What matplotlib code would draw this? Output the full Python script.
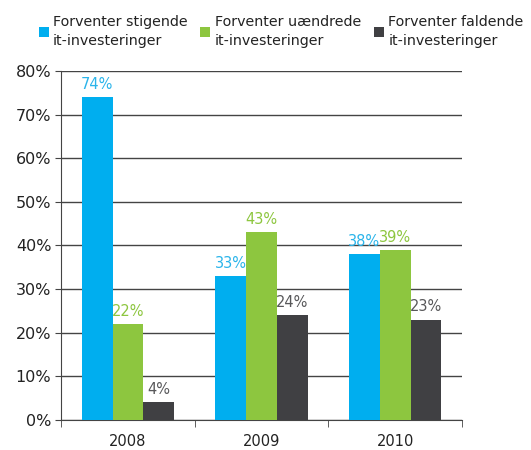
import matplotlib.pyplot as plt
import numpy as np

years = ['2008', '2009', '2010']
series = ['Forventer stigende\nit-investeringer',
          'Forventer uændrede\nit-investeringer',
          'Forventer faldende\nit-investeringer']
stigende = [74, 33, 38]
uaendrede = [22, 43, 39]
faldende = [4, 24, 23]

colors = ['#00aeef', '#8dc63f', '#404043']
label_colors = ['#2ab4ea', '#8dc63f', '#58585a']

fig = plt.figure(figsize=(5.31, 4.5), dpi=100)
ax = fig.add_axes([0.115, 0.067, 0.755, 0.775])

x = np.arange(len(years))
w = 0.23
handles = []
for i, vals in enumerate([stigende, uaendrede, faldende]):
    pos = x + (i - 1) * w
    b = ax.bar(pos, vals, w, color=colors[i], zorder=3, label=series[i])
    handles.append(b)
    for p, v in zip(pos, vals):
        ax.text(p, v + 1.2, f'{v}%', ha='center', va='bottom',
                fontsize=10.5, color=label_colors[i], zorder=4)

ax.set_xlim(-0.5, 2.5)
ax.set_ylim(0, 80)
ax.set_yticks(np.arange(0, 81, 10))
ax.set_yticklabels([f'{v}%' for v in range(0, 81, 10)], fontsize=11.5, color='#222222')
ax.set_xticks(x)
ax.set_xticklabels(years, fontsize=10.5, color='#222222')
ax.tick_params(axis='x', length=0, pad=10)
ax.set_xticks([-0.5, 0.5, 1.5, 2.5], minor=True)
ax.tick_params(axis='x', which='minor', length=5, color='#444444')
ax.tick_params(axis='y', length=4, color='#444444', pad=3)
ax.yaxis.grid(True, color='#444444', linewidth=1.0, zorder=0)
for s in ['top', 'right']:
    ax.spines[s].set_visible(False)
for s in ['left', 'bottom']:
    ax.spines[s].set_color('#444444')

leg = fig.legend(handles=handles, labels=series, loc='upper left',
                 bbox_to_anchor=(0.062, 0.98), ncol=3, frameon=False,
                 fontsize=10.3, handlelength=0.7, handleheight=0.7,
                 handletextpad=0.3, columnspacing=0.9, borderaxespad=0,
                 labelcolor='#222222')
for t in leg.get_texts():
    t.set_linespacing(1.45)

fig.savefig('out.png', dpi=100)
